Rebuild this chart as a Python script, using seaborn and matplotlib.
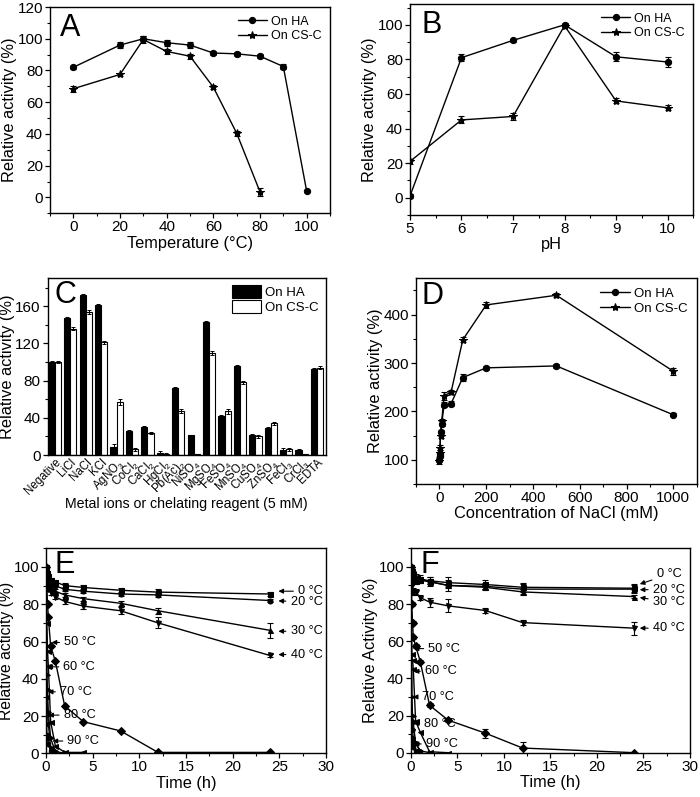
import numpy as np
import pandas as pd
import matplotlib
matplotlib.use('Agg')
import matplotlib.pyplot as plt
import seaborn as sns
from matplotlib.ticker import MultipleLocator, NullLocator

# ---------------- data ----------------
# A: temperature
A_temp_HA = [0, 20, 30, 40, 50, 60, 70, 80, 90, 100]
A_HA = [82, 96, 100, 97.5, 96, 91, 90.5, 89, 82.5, 4]
A_HA_err = [1, 1.8, 1.5, 1.8, 1.8, 1.5, 1.2, 1.2, 1.8, 0.8]
A_temp_CS = [0, 20, 30, 40, 50, 60, 70, 80]
A_CS = [68.5, 77.5, 99.5, 92, 89, 69.5, 40.5, 3.5]
A_CS_err = [2, 1.2, 2, 1.5, 1.5, 1.2, 1.5, 2.5]

# B: pH
B_pH = [5, 6, 7, 8, 9, 10]
B_HA = [1, 81, 91, 100, 81.5, 78.5]
B_HA_err = [1, 2, 1, 1, 2.5, 3]
B_CS = [21, 45, 47, 99.5, 56, 52]
B_CS_err = [1.5, 2, 2, 1, 1.5, 1.5]

# C: metal ions
C_labels = ['Negative', 'LiCl', 'NaCl', 'KCl', 'AgNO$_3$', 'CoCl$_2$', 'CaCl$_2$',
            'HgCl$_2$', 'Pb(Ac)$_2$', 'NiSO$_4$', 'MgSO$_4$', 'FeSO$_4$', 'MnSO$_4$',
            'CuSO$_4$', 'ZnSO$_4$', 'FeCl$_3$', 'CrCl$_3$', 'EDTA']
C_HA = [100, 147, 172, 161, 9, 26, 30, 2, 72, 21, 143, 42, 96, 22, 29, 5, 5, 92]
C_HA_err = [1, 1.5, 1, 1, 2.5, 1, 1, 2, 1, 1, 1, 1, 1, 1, 1, 2, 1, 2]
C_CS = [100, 136, 154, 121, 57, 6, 24, 1, 47, 1, 110, 47, 78, 20, 34, 6, 1, 94]
C_CS_err = [1, 2, 2, 2, 3, 2, 1, 1.5, 2, 0.5, 2, 3, 2, 1.5, 1.5, 2, 0.5, 1.5]

# D: NaCl concentration
D_conc = [0, 1, 2, 5, 10, 20, 50, 100, 200, 500, 1000]
D_HA = [100, 108, 112, 157, 175, 214, 216, 270, 290, 294, 193]
D_HA_err = [5, 5, 5, 5, 5, 5, 5, 8, 4, 4, 3]
D_CS = [97, 115, 125, 150, 180, 232, 240, 348, 420, 440, 283]
D_CS_err = [5, 5, 5, 5, 5, 8, 5, 5, 7, 4, 7]

# E / F: thermostability time courses
t_long = [0, 0.083, 0.167, 0.25, 0.5, 1, 2, 4, 8, 12, 24]
t_60 = [0, 0.083, 0.167, 0.25, 0.5, 1, 2, 4]
t_70 = [0, 0.083, 0.167, 0.25, 0.5, 1, 2]
t_80 = [0, 0.083, 0.167, 0.25, 0.5, 1]
t_90 = [0, 0.083, 0.167, 0.25, 0.5, 1]

E_0C = [100, 97, 95, 94, 93, 92, 90, 89, 87.5, 86.5, 85.5]
E_20C = [100, 95, 93, 92, 91, 90, 88, 87, 85.5, 85, 82]
E_30C = [100, 93, 91, 90, 88.5, 87, 85, 83, 80.5, 76.5, 66]
E_40C = [100, 92, 89, 88, 86, 84, 81.5, 79, 76.5, 70, 52.5]
E_50C = [100, 90, 80, 73, 57.5, 49.5, 25.5, 17, 12, 0.5, 0.5]
E_60C = [100, 70, 55, 47, 17, 4, 0.5, 0.5]
E_70C = [100, 42, 34, 22, 8, 1, 0]
E_80C = [100, 30, 21, 16, 3, 0.5]
E_90C = [100, 10, 8, 5, 1, 0]
E_0C_err = [0, 1, 1, 1, 1, 1, 1.2, 1.2, 1.2, 1.5, 1.2]
E_20C_err = [0, 1, 1, 1, 1, 1, 1, 1, 1, 1, 1]
E_30C_err = [0, 1, 1, 1, 1, 1, 1, 1, 1.5, 1.5, 4]
E_40C_err = [0, 1, 1, 1, 1, 1, 1.2, 1.5, 2, 3, 1]

F_0C = [100, 98, 96, 95, 94, 93.5, 92.5, 91.5, 90.5, 89, 88.5]
F_20C = [100, 97, 95, 94, 93, 93, 92, 90, 89.5, 88, 88]
F_30C = [100, 96, 94, 93, 92.5, 93, 92, 90, 89, 86.5, 84]
F_40C = [100, 90, 87, 86.5, 86.5, 83.5, 81, 79, 76.5, 70, 67]
F_50C = [100, 80, 70, 62, 57.5, 49, 25.5, 17.5, 10.5, 2.5, 0]
F_60C = [100, 53, 50, 45, 17, 11, 0.5, 0]
F_70C = [100, 30, 20, 16, 5, 1, 0]
F_80C = [100, 17, 12, 8, 5, 1]
F_90C = [100, 8, 5, 3, 1, 0]
F_0C_err = [0, 2, 2, 2, 2, 2, 2, 3, 2.5, 2.5, 2]
F_20C_err = [0, 2, 2, 2, 2, 1.5, 2.5, 3, 2, 2.5, 2]
F_30C_err = [0, 1, 1, 1, 1, 1, 1, 1, 1, 1.5, 1]
F_40C_err = [0, 2, 1.5, 1.5, 1.5, 1.5, 2.5, 3.5, 1.5, 1.5, 3.5]
F_50C_err = [0, 1, 1, 1, 1, 1, 1, 1, 2.5, 3, 0.5]

temp_labels = ['0 °C', '20 °C', '30 °C', '40 °C', '50 °C', '60 °C', '70 °C', '80 °C', '90 °C']

# ---------------- style ----------------
sns.set_theme(style='ticks')
plt.rcParams['font.family'] = ['Liberation Sans', 'DejaVu Sans']
plt.rcParams['mathtext.default'] = 'regular'
plt.rcParams['axes.edgecolor'] = 'black'
plt.rcParams['axes.linewidth'] = 1.0
plt.rcParams['xtick.color'] = 'black'
plt.rcParams['ytick.color'] = 'black'
plt.rcParams['text.color'] = 'black'
plt.rcParams['axes.labelcolor'] = 'black'

fig = plt.figure(figsize=(7, 7.97), dpi=100)

TICK = 11
LAB = 11.8


def style(ax, xmaj, ymaj, xmin=None, ymin=None):
    for s in ax.spines.values():
        s.set_color('black')
        s.set_linewidth(1.0)
    if xmaj is not None:
        ax.xaxis.set_major_locator(MultipleLocator(xmaj))
    if ymaj is not None:
        ax.yaxis.set_major_locator(MultipleLocator(ymaj))
    if xmin is not None:
        ax.xaxis.set_minor_locator(MultipleLocator(xmin))
    if ymin is not None:
        ax.yaxis.set_minor_locator(MultipleLocator(ymin))
    ax.tick_params(which='major', direction='out', length=3.5, width=0.9, labelsize=TICK, pad=1.5)
    ax.tick_params(which='minor', direction='out', length=2.0, width=0.8)


def line(ax, x, y, marker, ms, label=None):
    sns.lineplot(x=x, y=y, ax=ax, color='black', marker=marker, markersize=ms,
                 markeredgecolor='black', markerfacecolor='black', linewidth=1.0,
                 label=label, errorbar=None, sort=False)


def err(ax, x, y, e):
    ax.errorbar(x, y, yerr=e, fmt='none', ecolor='black', elinewidth=0.8,
                capsize=2, capthick=0.8)


def letter(ax, s, x, y):
    ax.text(x, y, s, transform=ax.transAxes, fontsize=22, va='top', ha='left')


def leg(ax, fs, **kw):
    ax.legend(loc='upper right', frameon=False, fontsize=fs, handlelength=2.3,
              labelspacing=0.2, handletextpad=0.3, borderaxespad=0.3, **kw)


def ylab(ax, s, fs=LAB, pad=0.5):
    ax.set_ylabel(s, fontsize=fs, labelpad=pad)


# ---------------- A ----------------
axA = fig.add_axes([0.0714, 0.7324, 0.40, 0.2588])
line(axA, A_temp_HA, A_HA, 'o', 4.5, 'On HA')
line(axA, A_temp_CS, A_CS, '*', 6, 'On CS-C')
err(axA, A_temp_HA, A_HA, A_HA_err)
err(axA, A_temp_CS, A_CS, A_CS_err)
axA.set_xlim(-10, 110)
axA.set_ylim(-10, 120)
style(axA, 20, 20, 10, 10)
axA.set_xlabel('Temperature (°C)', fontsize=LAB, labelpad=1)
ylab(axA, 'Relative activity (%)')
letter(axA, 'A', 0.035, 0.97)
leg(axA, 9)

# ---------------- B ----------------
axB = fig.add_axes([0.5857, 0.7302, 0.4047, 0.2647])
line(axB, B_pH, B_HA, 'o', 4.5, 'On HA')
line(axB, B_pH, B_CS, '*', 6, 'On CS-C')
err(axB, B_pH, B_HA, B_HA_err)
err(axB, B_pH, B_CS, B_CS_err)
axB.set_xlim(5, 10.5)
axB.set_ylim(-10, 112)
style(axB, 1, 20, 0.5, 10)
axB.set_xlabel('pH', fontsize=LAB, labelpad=1)
ylab(axB, 'Relative activity (%)')
letter(axB, 'B', 0.04, 0.97)
leg(axB, 9)

# ---------------- C ----------------
axC = fig.add_axes([0.0681, 0.4291, 0.3971, 0.2217])
dfC = pd.DataFrame({
    'ion': C_labels * 2,
    'val': C_HA + C_CS,
    'grp': ['On HA'] * len(C_labels) + ['On CS-C'] * len(C_labels),
})
sns.barplot(data=dfC, x='ion', y='val', hue='grp', palette=['black', 'white'],
            edgecolor='black', linewidth=0.8, errorbar=None, ax=axC, width=0.8,
            saturation=1)
for cont, vals, errs in zip(axC.containers, [C_HA, C_CS], [C_HA_err, C_CS_err]):
    xs = [b.get_x() + b.get_width() / 2 for b in cont]
    axC.errorbar(xs, vals, yerr=errs, fmt='none', ecolor='black', elinewidth=0.7,
                 capsize=1.5, capthick=0.7)
axC.set_xlim(-0.47, 17.56)
axC.set_ylim(0, 190)
style(axC, None, 40, None, 20)
axC.xaxis.set_minor_locator(NullLocator())
axC.tick_params(axis='x', length=0, pad=1)
axC.set_xticks(range(len(C_labels)))
axC.set_xticklabels(C_labels, rotation=45, ha='right', rotation_mode='anchor', fontsize=8.3)
axC.set_xlabel('Metal ions or chelating reagent (5 mM)', fontsize=10.2, labelpad=0)
ylab(axC, 'Relative activity (%)')
letter(axC, 'C', 0.025, 0.99)
axC.legend(loc='upper right', frameon=False, fontsize=9.5, handlelength=2.2,
           handleheight=1.15, labelspacing=0.05, handletextpad=0.3, borderaxespad=0.1,
           title=None)

# ---------------- D ----------------
axD = fig.add_axes([0.5943, 0.3927, 0.401, 0.2581])
line(axD, D_conc, D_HA, 'o', 4.5, 'On HA')
line(axD, D_conc, D_CS, '*', 6, 'On CS-C')
err(axD, D_conc, D_HA, D_HA_err)
err(axD, D_conc, D_CS, D_CS_err)
axD.set_xlim(-100, 1100)
axD.set_ylim(50, 475)
style(axD, 200, 100, 100, 50)
axD.set_xlabel('Concentration of NaCl (mM)', fontsize=LAB, labelpad=1)
ylab(axD, 'Relative activity (%)')
letter(axD, 'D', 0.02, 0.985)
leg(axD, 9.5)


# ---------------- E / F ----------------
def thermo(ax, series, errs):
    markers = ['s', 'o', '^', 'v', 'D', '<', '>', 'p', 'h']
    for (t, y), m in zip(series, markers):
        line(ax, t, y, m, 3.6)
    for (t, y), e in zip(series, errs):
        if e is not None:
            err(ax, t, y, e)
    ax.set_xlim(0, 30)
    ax.set_ylim(0, 110)
    style(ax, 5, 20, 2.5, 10)
    ax.set_xlabel('Time (h)', fontsize=LAB, labelpad=1)


def arrow_label(ax, s, tx, ty, px, py):
    ax.annotate(s, xy=(px, py), xytext=(tx, ty), fontsize=9.2, ha='left', va='center',
                arrowprops=dict(arrowstyle='-|>', color='black', lw=0.8,
                                mutation_scale=7, shrinkA=1, shrinkB=0))


axE = fig.add_axes([0.0657, 0.0548, 0.40, 0.2572])
thermo(axE,
       [(t_long, E_0C), (t_long, E_20C), (t_long, E_30C), (t_long, E_40C),
        (t_long, E_50C), (t_60, E_60C), (t_70, E_70C), (t_80, E_80C), (t_90, E_90C)],
       [E_0C_err, E_20C_err, E_30C_err, E_40C_err, None, None, None, None, None])
ylab(axE, 'Relative acticity (%)', fs=11.3, pad=0)
letter(axE, 'E', 0.03, 0.99)
E_pos = [(27.0, 87.0, 24.9, 87.0), (26.2, 81.3, 24.9, 81.8), (26.2, 65.5, 24.9, 65.5),
         (26.2, 53.0, 24.9, 53.0), (1.95, 59.5, 0.6, 59.5), (1.86, 46.4, 0.15, 46.4),
         (1.5, 33.0, 0.2, 33.0), (1.9, 20.5, 0.25, 20.5), (2.3, 6.6, 0.7, 6.6)]
for s, p in zip(temp_labels, E_pos):
    arrow_label(axE, s, *p)

axF = fig.add_axes([0.5871, 0.0556, 0.3986, 0.2565])
thermo(axF,
       [(t_long, F_0C), (t_long, F_20C), (t_long, F_30C), (t_long, F_40C),
        (t_long, F_50C), (t_60, F_60C), (t_70, F_70C), (t_80, F_80C), (t_90, F_90C)],
       [F_0C_err, F_20C_err, F_30C_err, F_40C_err, F_50C_err, None, None, None, None])
ylab(axF, 'Relative Activity (%)')
letter(axF, 'F', 0.035, 0.99)
F_pos = [(26.4, 96.0, 24.6, 90.7), (26.0, 87.7, 24.6, 87.7), (26.0, 81.0, 24.6, 83.5),
         (26.0, 67.0, 24.6, 67.0), (1.86, 56.0, 0.3, 56.0), (1.5, 43.8, 0.3, 43.8),
         (1.15, 30.0, 0.2, 30.0), (1.4, 15.7, 0.3, 15.7), (1.6, 4.7, 0.3, 4.7)]
for s, p in zip(temp_labels, F_pos):
    arrow_label(axF, s, *p)

fig.savefig('out.png', dpi=100)
